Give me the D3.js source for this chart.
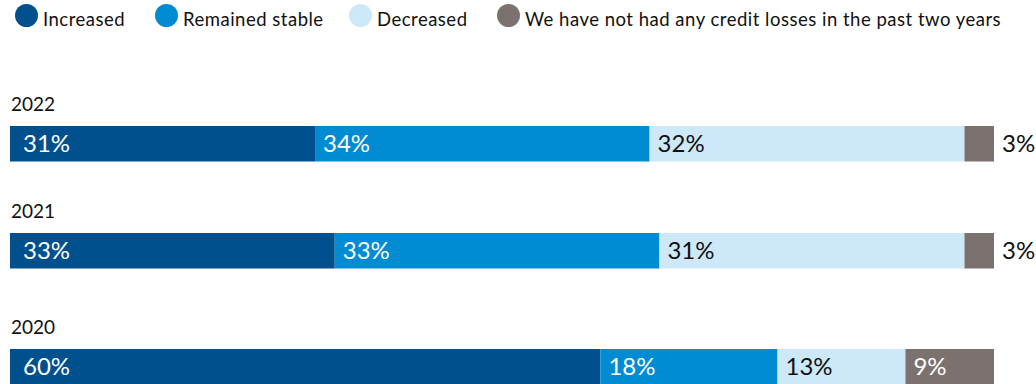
<!DOCTYPE html>
<html>
<head>
<meta charset="utf-8">
<script src="https://cdn.jsdelivr.net/npm/d3@7"></script>
<style>
  html, body { margin: 0; padding: 0; background: #fff; }
  svg { display: block; font-family: Lato, "Open Sans", sans-serif; }
</style>
</head>
<body>
<svg id="chart" width="1036" height="384"></svg>
<script>
// Survey years (rows, top to bottom)
const years = ["2022", "2021", "2020"];
// Answer categories (stack order, left to right)
const categories = ["Increased", "Remained stable", "Decreased", "We have not had any credit losses in the past two years"];
// Share of respondents per answer, in percent, one array per category, aligned with years
const increased = [31, 33, 60];
const remainedStable = [34, 33, 18];
const decreased = [32, 31, 13];
const noLosses = [3, 3, 9];

const seriesValues = [increased, remainedStable, decreased, noLosses];
const colors = ["#00508e", "#008bd2", "#cde9f9", "#7b7270"];
const labelColors = ["#ffffff", "#ffffff", "#111111", "#ffffff"];

const svg = d3.select("#chart");

// Build one record per year for the stack generator
const table = years.map((y, i) => {
  const row = { year: y };
  categories.forEach((c, k) => { row[c] = seriesValues[k][i]; });
  return row;
});
const stacked = d3.stack().keys(categories)(table);

// Horizontal scale: 0–100 % across the plot width
const x = d3.scaleLinear().domain([0, 100]).range([10, 994]);

// Row layout: top of each bar
const y = d3.scaleOrdinal().domain(years).range([126, 233, 349]);
const barH = 35.5;

// Legend
const legend = svg.append("g").attr("class", "legend");
const legendX = [26.5, 166.5, 360.5, 508.5];
categories.forEach((c, k) => {
  const g = legend.append("g").attr("transform", `translate(${legendX[k]},15.5)`);
  g.append("circle").attr("r", 11.5).attr("fill", colors[k]);
  g.append("text")
    .attr("x", 16.5).attr("y", 10)
    .attr("font-size", 18.5)
    .attr("letter-spacing", 0.5)
    .attr("fill", "#111111")
    .text(c);
});

// Year labels
svg.append("g").selectAll("text").data(years).join("text")
  .attr("x", 11)
  .attr("y", d => y(d) - 15)
  .attr("font-size", 19)
  .attr("fill", "#111111")
  .text(d => d);

// Stacked segments
const layers = svg.append("g").selectAll("g").data(stacked).join("g")
  .attr("fill", (d, k) => colors[k]);

layers.selectAll("rect").data(d => d).join("rect")
  .attr("x", d => x(d[0]))
  .attr("y", d => y(d.data.year))
  .attr("width", d => x(d[1]) - x(d[0]))
  .attr("height", barH);

// Value labels: inside the segment, or right of the bar when the segment is too narrow
stacked.forEach((layer, k) => {
  svg.append("g").selectAll("text").data(layer).join("text")
    .attr("font-size", 24)
    .attr("font-weight", 400)
    .attr("y", d => y(d.data.year) + barH / 2 + 8.5)
    .attr("x", d => {
      const w = x(d[1]) - x(d[0]);
      if (w < 40) return x(d[1]) + 8;
      return x(d[0]) + (k === 0 ? 13 : 8);
    })
    .attr("fill", d => (x(d[1]) - x(d[0]) < 40) ? "#111111" : labelColors[k])
    .text(d => (d[1] - d[0]) + "%");
});
</script>
</body>
</html>
